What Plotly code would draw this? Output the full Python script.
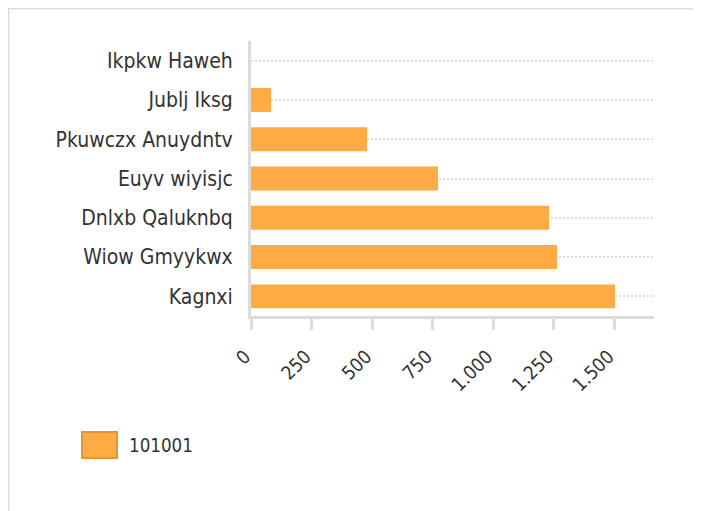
import plotly.graph_objects as go

categories = ["Ikpkw Haweh", "Jublj Iksg", "Pkuwczx Anuydntv", "Euyv wiyisjc",
              "Dnlxb Qaluknbq", "Wiow Gmyykwx", "Kagnxi"]
values = [0, 83, 479, 772, 1230, 1263, 1502]
series_name = "101001"
tick_vals = [0, 250, 500, 750, 1000, 1250, 1500]
tick_text = ["0", "250", "500", "750", "1.000", "1.250", "1.500"]

FONT = "DejaVu Sans Condensed, DejaVu Sans, sans-serif"
BAR = "#fdab45"
GRID = "#dcdcdc"
TXT = "#333333"

# plot area in figure pixels
L, T, PW, PH = 243, 33, 403, 275
W, H = 701, 511


def px(x):
    return (x - L) / PW


def py(y):
    return (T + PH - y) / PH


fig = go.Figure()
fig.add_trace(go.Bar(
    y=categories, x=values, orientation="h", name=series_name,
    marker=dict(color=BAR, line=dict(width=0)), showlegend=False,
))

fig.update_layout(
    width=W, height=H,
    margin=dict(l=L, r=W - L - PW, t=T, b=H - T - PH, autoexpand=False),
    paper_bgcolor="white", plot_bgcolor="white",
    bargap=0.39,
    font=dict(family=FONT, size=21, color=TXT),
    xaxis=dict(
        range=[0, 1663], tickvals=tick_vals, ticktext=tick_text,
        tickangle=-45, showgrid=False, zeroline=False,
        showline=True, linecolor=GRID, linewidth=3,
        ticks="outside", ticklen=11, tickwidth=3, tickcolor=GRID,
        ticklabelstandoff=8, ticklabelshift=-6,
        tickfont=dict(family=FONT, size=19, color=TXT),
    ),
    yaxis=dict(
        autorange="reversed", showgrid=True, gridcolor=GRID, gridwidth=2,
        griddash="2px,2px", zeroline=False,
        showline=True, linecolor=GRID, linewidth=3,
        ticks="", ticklabelstandoff=11,
        tickfont=dict(family=FONT, size=21, color=TXT),
    ),
    shapes=[
        dict(type="rect", xref="paper", yref="paper",
             x0=px(0.5), x1=px(689), y0=py(H + 20), y1=py(0.5),
             line=dict(color="#dddddd", width=2), fillcolor="rgba(0,0,0,0)", layer="below"),
        dict(type="rect", xref="paper", yref="paper",
             x0=px(74), x1=px(109), y0=py(450), y1=py(424),
             line=dict(color="#e0963a", width=2), fillcolor=BAR),
    ],
    annotations=[
        dict(text=series_name, xref="paper", yref="paper",
             x=px(119), y=py(437), xanchor="left", yanchor="middle",
             showarrow=False, font=dict(family=FONT, size=18.6, color=TXT)),
    ],
)

fig.write_html("out.html")
